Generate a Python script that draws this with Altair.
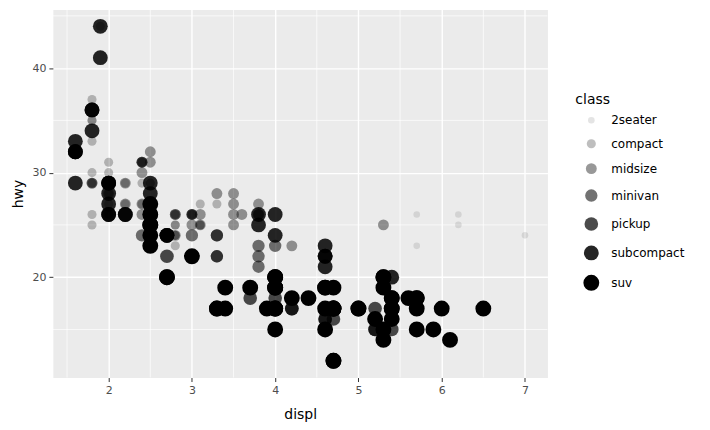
import altair as alt
import pandas as pd

# mpg data: engine displacement, highway mpg, vehicle class
displ = [
    1.8, 1.8, 2.0, 2.0, 2.8, 2.8, 3.1,
    1.8, 1.8, 2.0, 2.0, 2.8, 2.8, 3.1, 3.1,
    2.8, 3.1, 4.2,
    5.3, 5.3, 5.3, 5.7, 6.0,
    5.7, 5.7, 6.2, 6.2, 7.0,
    5.3, 5.3, 5.7, 6.5,
    2.4, 3.0, 3.3, 3.3, 3.3, 3.3, 3.3, 3.8, 3.8, 3.8, 4.0,
    3.7, 3.7, 3.9, 3.9, 4.7, 4.7, 4.7, 5.2, 5.2,
    3.9, 4.7, 4.7, 4.7, 5.2, 5.7, 5.9,
    4.7, 4.7, 4.7, 4.7, 4.7, 4.7, 5.2, 5.2, 5.7, 5.9,
    4.6, 5.4, 5.4,
    4.0, 4.0, 4.0, 4.0, 4.6, 5.0,
    4.2, 4.2, 4.6, 4.6, 4.6, 5.4, 5.4,
    3.8, 3.8, 4.0, 4.0, 4.6, 4.6, 4.6, 4.6, 5.4,
    1.6, 1.6, 1.6, 1.6, 1.6, 1.8, 1.8, 1.8, 2.0,
    2.4, 2.4, 2.4, 2.4, 2.5, 2.5, 3.3,
    2.0, 2.0, 2.0, 2.0, 2.7, 2.7, 2.7,
    3.0, 3.7, 4.0, 4.7, 4.7, 4.7, 5.7, 6.1,
    4.0, 4.2, 4.4, 4.6,
    5.4, 5.4, 5.4,
    4.0, 4.0, 4.6, 5.0,
    2.4, 2.4, 2.5, 2.5, 3.5, 3.5,
    3.0, 3.0, 3.5,
    3.3, 3.3, 4.0, 5.6,
    3.1, 3.8, 3.8, 3.8, 5.3,
    2.5, 2.5, 2.5, 2.5, 2.5, 2.5,
    2.2, 2.2, 2.5, 2.5, 2.5, 2.5, 2.5, 2.5,
    2.7, 2.7, 3.4, 3.4, 4.0, 4.7,
    2.2, 2.2, 2.4, 2.4, 3.0, 3.0, 3.5,
    2.2, 2.2, 2.4, 2.4, 3.0, 3.0, 3.3,
    1.8, 1.8, 1.8, 1.8, 1.8,
    2.7, 2.7, 2.7, 3.4, 3.4, 4.0, 4.0,
    2.0, 2.0, 2.0, 2.0, 2.8,
    1.9, 2.0, 2.0, 2.0, 2.0, 2.5, 2.5, 2.8, 2.8,
    1.9, 1.9, 2.0, 2.0, 2.5, 2.5,
    1.8, 1.8, 2.0, 2.0, 2.8, 2.8, 3.6,
]
hwy = [
    29, 29, 31, 30, 26, 26, 27,
    26, 25, 28, 27, 25, 25, 25, 25,
    24, 25, 23,
    20, 15, 20, 17, 17,
    26, 23, 26, 25, 24,
    19, 14, 15, 17,
    24, 24, 22, 22, 24, 24, 17, 22, 21, 23, 23,
    19, 18, 17, 17, 19, 19, 12, 17, 15,
    17, 17, 12, 17, 16, 18, 15,
    16, 12, 17, 17, 12, 17, 15, 16, 17, 15,
    17, 17, 18,
    17, 19, 17, 19, 19, 17,
    17, 17, 16, 16, 17, 15, 17,
    26, 25, 26, 24, 21, 22, 23, 22, 20,
    33, 32, 32, 29, 32, 34, 36, 36, 29,
    26, 27, 30, 31, 26, 26, 28,
    26, 29, 28, 27, 24, 24, 24,
    22, 19, 20, 17, 12, 19, 18, 14,
    15, 18, 18, 15,
    17, 16, 18,
    17, 19, 19, 17,
    29, 27, 31, 32, 27, 26,
    26, 25, 25,
    17, 17, 20, 18,
    26, 26, 27, 26, 25,
    25, 24, 27, 25, 26, 23,
    26, 26, 26, 26, 27, 23, 27, 26,
    20, 20, 19, 17, 20, 17,
    29, 27, 31, 31, 26, 26, 28,
    27, 29, 31, 31, 26, 26, 27,
    30, 33, 35, 37, 35,
    20, 20, 22, 17, 19, 18, 20,
    29, 26, 29, 29, 24,
    44, 29, 26, 29, 29, 29, 29, 23, 24,
    44, 41, 29, 26, 28, 29,
    29, 29, 28, 29, 26, 26, 26,
]
cls = (
    ["compact"] * 7 + ["compact"] * 8 + ["midsize"] * 3
    + ["suv"] * 5 + ["2seater"] * 5 + ["suv"] * 4
    + ["minivan"] * 11 + ["pickup"] * 9 + ["suv"] * 7 + ["pickup"] * 10
    + ["suv"] * 3 + ["suv"] * 6 + ["pickup"] * 7 + ["subcompact"] * 9
    + ["subcompact"] * 9 + ["midsize"] * 7 + ["subcompact"] * 7
    + ["suv"] * 8 + ["suv"] * 4 + ["suv"] * 3 + ["suv"] * 4
    + ["compact", "compact", "midsize", "midsize", "midsize", "midsize"]
    + ["midsize"] * 3 + ["suv"] * 4 + ["midsize"] * 5 + ["suv"] * 6
    + ["subcompact"] * 4 + ["compact"] * 4
    + ["suv"] * 6 + ["midsize"] * 7 + ["compact"] * 7 + ["compact"] * 5
    + ["pickup"] * 7 + ["compact"] * 5 + ["compact"] * 9
    + ["subcompact"] * 6 + ["midsize"] * 7
)

classes = ["2seater", "compact", "midsize", "minivan", "pickup", "subcompact", "suv"]
x_ticks = [2, 3, 4, 5, 6, 7]
y_ticks = [20, 30, 40]
x_minor = [1.5, 2.5, 3.5, 4.5, 5.5, 6.5]
y_minor = [15, 25, 35, 45]

df = pd.DataFrame({"displ": displ, "hwy": hwy, "class": cls})

sizes = [44, 83, 119, 154, 188, 221, 254]
alphas = [0.1, 0.25, 0.4, 0.55, 0.7, 0.85, 1.0]

xscale = alt.Scale(domain=[1.33, 7.27], nice=False, zero=False)
yscale = alt.Scale(domain=[10.4, 45.6], nice=False, zero=False)

common_axis = dict(
    grid=True, gridColor="white", gridWidth=1.4, domain=False,
    tickColor="#333333", tickSize=4, tickWidth=1,
    labelColor="#4D4D4D", labelFontSize=11, labelPadding=3,
    titleFontSize=14, titleColor="black", titleFontWeight="normal",
    titleBaseline="alphabetic", format="d",
)
xaxis = alt.Axis(values=x_ticks, titleY=41, **common_axis)
yaxis = alt.Axis(values=y_ticks, titleX=-30, titleY=184.5, **common_axis)

X = lambda: alt.X("displ:Q", scale=xscale, axis=xaxis, title="displ")
Y = lambda: alt.Y("hwy:Q", scale=yscale, axis=yaxis, title="hwy")

rx = alt.Chart(pd.DataFrame({"displ": x_minor})).mark_rule(
    color="white", strokeWidth=0.7).encode(x=X())
ry = alt.Chart(pd.DataFrame({"hwy": y_minor})).mark_rule(
    color="white", strokeWidth=0.7).encode(y=Y())

leg = alt.Legend(title="class")
pts = alt.Chart(df).mark_circle(color="black").encode(
    x=X(),
    y=Y(),
    size=alt.Size("class:O", scale=alt.Scale(type="ordinal", domain=classes, range=sizes), legend=leg),
    opacity=alt.Opacity("class:O", scale=alt.Scale(type="ordinal", domain=classes, range=alphas), legend=leg),
)

chart = alt.layer(rx, ry, pts).properties(
    width=496, height=369,
    autosize=alt.AutoSizeParams(type="none"),
    padding={"left": 45, "top": 1, "right": 155, "bottom": 44},
).configure(
    font="DejaVu Sans",
).configure_view(
    fill="#EBEBEB", stroke="transparent",
).configure_legend(
    orient="none", legendX=524, legendY=84,
    titleFontSize=14, titleFontWeight="normal", titleColor="black",
    labelFontSize=12, labelColor="black",
    symbolOffset=7, labelOffset=11, rowPadding=8.5, titlePadding=7,
    symbolType="circle",
)

chart.save("out.html", embed_options={"renderer": "svg", "actions": False})
